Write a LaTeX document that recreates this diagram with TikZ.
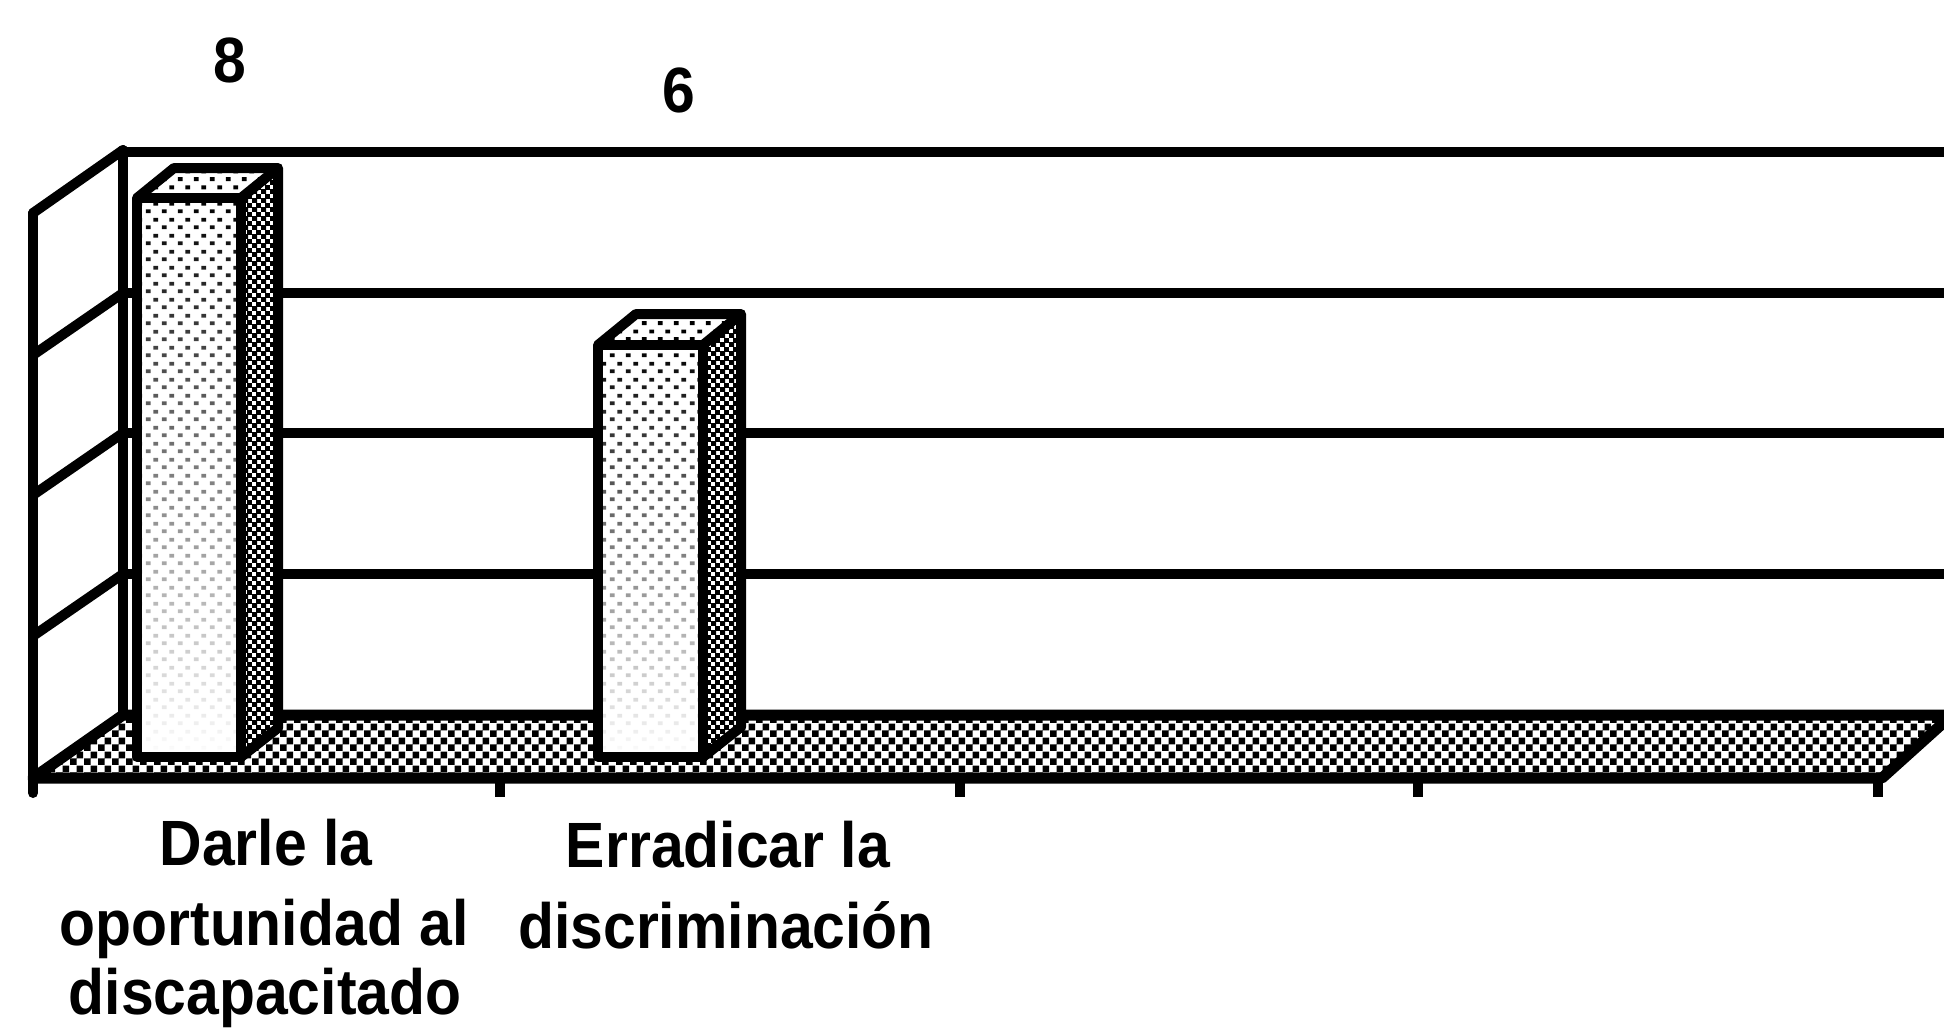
\documentclass[tikz,border=0pt]{standalone}
\usepackage{fontspec}
\newfontfamily\lblfont{Liberation Sans}[FakeStretch=0.92]
\usetikzlibrary{patterns,fadings}

\pgfdeclarepatternformonly{checkerA}{\pgfqpoint{0pt}{0pt}}{\pgfqpoint{14pt}{14pt}}{\pgfqpoint{14pt}{14pt}}{%
  \pgfpathrectangle{\pgfqpoint{0pt}{0pt}}{\pgfqpoint{7pt}{7pt}}%
  \pgfpathrectangle{\pgfqpoint{7pt}{7pt}}{\pgfqpoint{7pt}{7pt}}%
  \pgfusepath{fill}}
\pgfdeclarepatternformonly{checkerB}{\pgfqpoint{0pt}{0pt}}{\pgfqpoint{9pt}{9pt}}{\pgfqpoint{9pt}{9pt}}{%
  \pgfpathrectangle{\pgfqpoint{0pt}{0pt}}{\pgfqpoint{5.5pt}{5.5pt}}%
  \pgfpathrectangle{\pgfqpoint{4.5pt}{4.5pt}}{\pgfqpoint{5.5pt}{5.5pt}}%
  \pgfusepath{fill}}
\pgfdeclarepatternformonly{dotsA}{\pgfqpoint{0pt}{0pt}}{\pgfqpoint{16pt}{16pt}}{\pgfqpoint{16pt}{16pt}}{%
  \pgfpathrectangle{\pgfqpoint{2pt}{2pt}}{\pgfqpoint{5pt}{4pt}}%
  \pgfpathrectangle{\pgfqpoint{10pt}{10pt}}{\pgfqpoint{5pt}{4pt}}%
  \pgfusepath{fill}}

\tikzfading[name=barfade, top color=transparent!0, middle color=transparent!15, bottom color=transparent!100]

\tikzset{
  gl/.style={line width=10pt, black},
  wall/.style={line width=10pt, black, line cap=round, line join=round},
  floorbox/.style={line width=11pt, black, line join=round, pattern=checkerA},
  barline/.style={line width=10pt, black, line join=round},
  lbl/.style={font=\lblfont\bfseries\fontsize{64}{78}\selectfont, inner sep=0pt, anchor=base},
  tick/.style={line width=10pt, black}
}

\begin{document}
\begin{tikzpicture}[x=1pt,y=-1pt]
\useasboundingbox (0,0) rectangle (1944,1031);
\fill[white] (0,0) rectangle (1944,1031);
\begin{scope}
\clip (0,0) rectangle (1944,1031);

% back wall gridlines
\foreach \yy in {152,293,433,574}{
  \draw[gl] (123,\yy) -- (1960,\yy);
}
% back-left vertical and left wall
\coordinate (bwTop) at (123,150);
\coordinate (bwBot) at (123,715);
\coordinate (lwTop) at (33,213);
\coordinate (lwBot) at (33,793);
\draw[wall] (bwTop) -- (bwBot);
\draw[wall] (lwTop) -- (lwBot);
\draw[wall] (bwTop) -- (lwTop);
\foreach \yy in {293,433,574}{
  \draw[wall] (123,\yy) -- (33,\yy+62);
}

% floor
\coordinate (fBL) at (123,715);
\coordinate (fBR) at (1952,715);
\coordinate (fFR) at (1882,778);
\coordinate (fFL) at (33,778);
\filldraw[fill=white] (fBL) -- (fBR) -- (fFR) -- (fFL) -- cycle;
\draw[floorbox] (fBL) -- (fBR) -- (fFR) -- (fFL) -- cycle;

% ticks
\foreach \xx in {500,960,1418,1878}{
  \draw[tick] (\xx,778) -- (\xx,797);
}

% bar 1
\coordinate (b1a) at (137,198);
\coordinate (b1b) at (241,198);
\coordinate (b1c) at (241,757);
\coordinate (b1d) at (137,757);
\coordinate (b1e) at (174,168);
\coordinate (b1f) at (278,168);
\coordinate (b1g) at (278,728);
\fill[white] (b1a) -- (b1b) -- (b1c) -- (b1d) -- cycle;
\fill[pattern=dotsA, path fading=barfade] (b1a) -- (b1b) -- (b1c) -- (b1d) -- cycle;
\fill[white] (b1a) -- (b1e) -- (b1f) -- (b1b) -- cycle;
\fill[pattern=dotsA] (b1a) -- (b1e) -- (b1f) -- (b1b) -- cycle;
\fill[white] (b1b) -- (b1f) -- (b1g) -- (b1c) -- cycle;
\fill[pattern=checkerB] (b1b) -- (b1f) -- (b1g) -- (b1c) -- cycle;
\draw[barline] (b1a) -- (b1b) -- (b1c) -- (b1d) -- cycle;
\draw[barline] (b1a) -- (b1e) -- (b1f) -- (b1g) -- (b1c);
\draw[barline] (b1b) -- (b1f);

% bar 2
\coordinate (b2a) at (598,345);
\coordinate (b2b) at (703,345);
\coordinate (b2c) at (703,757);
\coordinate (b2d) at (598,757);
\coordinate (b2e) at (636,314);
\coordinate (b2f) at (741,314);
\coordinate (b2g) at (741,727);
\fill[white] (b2a) -- (b2b) -- (b2c) -- (b2d) -- cycle;
\fill[pattern=dotsA, path fading=barfade] (b2a) -- (b2b) -- (b2c) -- (b2d) -- cycle;
\fill[white] (b2a) -- (b2e) -- (b2f) -- (b2b) -- cycle;
\fill[pattern=dotsA] (b2a) -- (b2e) -- (b2f) -- (b2b) -- cycle;
\fill[white] (b2b) -- (b2f) -- (b2g) -- (b2c) -- cycle;
\fill[pattern=checkerB] (b2b) -- (b2f) -- (b2g) -- (b2c) -- cycle;
\draw[barline] (b2a) -- (b2b) -- (b2c) -- (b2d) -- cycle;
\draw[barline] (b2a) -- (b2e) -- (b2f) -- (b2g) -- (b2c);
\draw[barline] (b2b) -- (b2f);
\end{scope}

% value labels
\node[lbl] (v1) at (230,82) {8};
\node[lbl] (v2) at (679,112) {6};

% category labels
\node[lbl] (c1a) at (266,865) {Darle la};
\node[lbl] (c1b) at (264,945) {oportunidad al};
\node[lbl] (c1c) at (265,1014) {discapacitado};
\node[lbl] (c2a) at (728,867) {Erradicar la};
\node[lbl] (c2b) at (726,948) {discriminación};
\end{tikzpicture}
\end{document}
